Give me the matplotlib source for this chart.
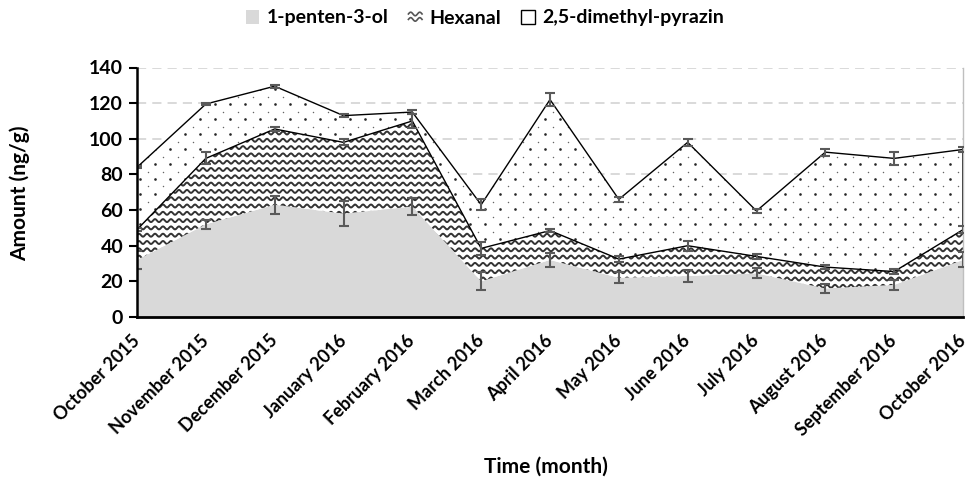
import numpy as np
import matplotlib
matplotlib.use('Agg')
import matplotlib.pyplot as plt
from matplotlib.patches import Patch, Polygon
from matplotlib.lines import Line2D
from matplotlib.legend_handler import HandlerBase

months = ['October 2015', 'November 2015', 'December 2015', 'January 2016',
          'February 2016', 'March 2016', 'April 2016', 'May 2016', 'June 2016',
          'July 2016', 'August 2016', 'September 2016', 'October 2016']
penten = [32, 52, 63, 58, 62, 20, 32, 22, 23, 24.5, 16, 18, 32]
hexanal = [17, 37, 42.5, 40, 48, 18.5, 16.5, 10.5, 17, 9.5, 12, 7.5, 17]
pyrazin = [35, 30.5, 24, 15, 5, 24.5, 73.5, 33.5, 58, 25.5, 64.5, 63.5, 45]
penten_err = [5, 2.5, 5, 7, 5, 5, 3.7, 3, 3.3, 2.8, 2.3, 2.8, 4.2]
hexanal_err = [1, 3.4, 1.2, 1.7, 3.7, 3.7, 1, 1.5, 2.8, 1.5, 1.2, 1.3, 2]
pyrazin_err = [0.5, 0.8, 0.8, 0.8, 1, 3, 3.5, 1.2, 2, 1.2, 2, 3.5, 1.5]
series_names = ['1-penten-3-ol', 'Hexanal', '2,5-dimethyl-pyrazin']
yticks = [0, 20, 40, 60, 80, 100, 120, 140]

FONT = 'Lato'
plt.rcParams['font.family'] = [FONT, 'DejaVu Sans']

fig = plt.figure(figsize=(9.72, 4.8), dpi=100)
W, H = 972, 480
ax = fig.add_axes([137 / W, 1 - 317 / H, (963 - 137) / W, (317 - 67.5) / H])

x = np.arange(len(months))
l1 = np.array(penten, float)
l2 = l1 + np.array(hexanal, float)
l3 = l2 + np.array(pyrazin, float)

ax.set_xlim(0, len(months) - 1)
ax.set_ylim(0, 140)
ax.set_yticks(yticks)

# grid
for yv in yticks[1:]:
    ax.axhline(yv, color='#d0d0d0', lw=1.1, ls=(0, (6, 4)), zorder=0)

grey = '#d9d9d9'
ax.fill_between(x, 0, l1, facecolor=grey, edgecolor='none', zorder=1)
ax.fill_between(x, l1, l2, facecolor='white', edgecolor='none', zorder=1)
ax.fill_between(x, l2, l3, facecolor='white', edgecolor='none', zorder=1)

inv = ax.transData.inverted()
bb = ax.bbox

# wave pattern for hexanal
poly_hex = Polygon(np.column_stack([np.r_[x, x[::-1]], np.r_[l2, l1[::-1]]]),
                   closed=True, transform=ax.transData, facecolor='none', edgecolor='none')
ax.add_patch(poly_hex)
xp = np.linspace(bb.x0, bb.x1, 1200)
ypix = bb.y0 + 1.5
while ypix < bb.y1:
    yy = ypix + 1.5 * np.sin(2 * np.pi * (xp - bb.x0) / 8.0)
    d = inv.transform(np.column_stack([xp, yy]))
    ln, = ax.plot(d[:, 0], d[:, 1], color='#333333', lw=1.4, zorder=2)
    ln.set_clip_path(poly_hex)
    ypix += 7.3

# dot pattern for pyrazin
poly_pyr = Polygon(np.column_stack([np.r_[x, x[::-1]], np.r_[l3, l2[::-1]]]),
                   closed=True, transform=ax.transData, facecolor='none', edgecolor='none')
ax.add_patch(poly_pyr)
gx = np.arange(bb.x0 + 3, bb.x1, 15.0)
gy = np.arange(bb.y0 + 3, bb.y1, 15.0)
GX, GY = np.meshgrid(gx, gy)
big = inv.transform(np.column_stack([GX.ravel(), GY.ravel()]))
small = inv.transform(np.column_stack([GX.ravel() + 7.5, GY.ravel() + 7.5]))
s1 = ax.scatter(big[:, 0], big[:, 1], s=3.6, color='#262626', linewidths=0, zorder=2)
s1.set_clip_path(poly_pyr)
s2 = ax.scatter(small[:, 0], small[:, 1], s=1.1, color='#666666', linewidths=0, zorder=2)
s2.set_clip_path(poly_pyr)

# outline of pyrazin area
ax.add_patch(Polygon(np.column_stack([np.r_[x, x[::-1]], np.r_[l3, l2[::-1]]]),
                     closed=True, facecolor='none', edgecolor='black', lw=1.0, zorder=3))

# error bars
ekw = dict(fmt='none', ecolor='#5a5a5a', elinewidth=1.5, capsize=3.5, capthick=1.5, zorder=4)
ax.errorbar(x, l1, yerr=penten_err, **ekw)
ax.errorbar(x, l2, yerr=hexanal_err, **ekw)
ax.errorbar(x, l3, yerr=pyrazin_err, **ekw)

# spines
ax.spines['top'].set_visible(False)
ax.spines['right'].set_color('#bfbfbf')
ax.spines['right'].set_linewidth(1.0)
ax.spines['left'].set_linewidth(1.8)
ax.spines['bottom'].set_linewidth(2.0)
for s in ('left', 'bottom'):
    ax.spines[s].set_color('black')
    ax.spines[s].set_zorder(5)

ax.tick_params(axis='y', length=6, width=1.5, direction='out', pad=4, labelsize=14)
ax.set_yticklabels([str(v) for v in yticks], fontweight='bold')
ax.set_xticks(x)
ax.tick_params(axis='x', length=0, pad=15, labelsize=13)
ax.set_xticklabels(months, rotation=45, ha='right', va='center', rotation_mode='anchor',
                   fontweight='bold')

fig.text(20 / W, 1 - 193 / H, 'Amount (ng/g)', rotation=90, ha='center', va='center',
         fontsize=15, fontweight='bold')
fig.text(546 / W, 1 - 467 / H, 'Time (month)', ha='center', va='center',
         fontsize=15, fontweight='bold')


class WaveHandler(HandlerBase):
    def create_artists(self, legend, orig_handle, xdescent, ydescent, width, height,
                       fontsize, trans):
        arts = []
        xs = np.linspace(0, width, 30)
        for k, yc in enumerate([0.3, 0.7]):
            ys = height * yc + height * 0.13 * np.sin(2 * np.pi * xs / (width / 1.5))
            l = Line2D(xs - xdescent, ys - ydescent, color='#555555', lw=1.2, transform=trans)
            arts.append(l)
        return arts


wave_handle = Patch(facecolor='white')
handles = [Patch(facecolor=grey, edgecolor='none'), wave_handle,
           Patch(facecolor='white', edgecolor='black', lw=1.0)]
leg = fig.legend(handles, series_names, loc='center', bbox_to_anchor=(485 / W, 1 - 18 / H),
                 ncol=3, frameon=False, prop={'weight': 'bold', 'size': 14},
                 handlelength=0.7, handleheight=0.7, handletextpad=0.4, columnspacing=1.0,
                 handler_map={wave_handle: WaveHandler()})

fig.savefig('out.png', dpi=100)
